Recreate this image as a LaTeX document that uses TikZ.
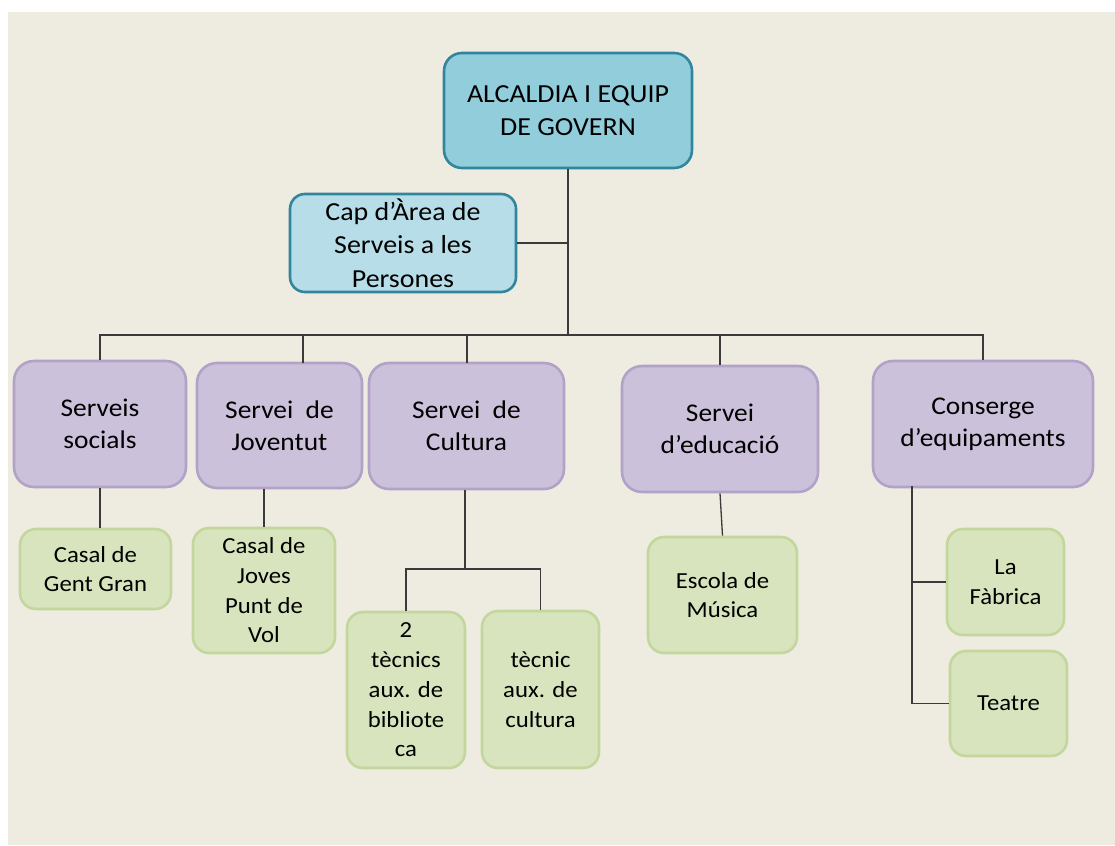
\documentclass[tikz,border=0pt]{standalone}
\usepackage{fontspec}
\setmainfont{Carlito}[FakeStretch=1.075]
\definecolor{bgtan}{HTML}{EEECE1}
\definecolor{aquafill}{HTML}{92CDDC}
\definecolor{aqualight}{HTML}{B7DEE8}
\definecolor{aquaedge}{HTML}{31859C}
\definecolor{purfill}{HTML}{CCC1DA}
\definecolor{puredge}{HTML}{B2A2C7}
\definecolor{grnfill}{HTML}{D7E4BD}
\definecolor{grnedge}{HTML}{C3D69B}
\definecolor{linecol}{HTML}{3A3A3A}
\tikzset{
  box/.style={rectangle, rounded corners=18pt, inner sep=0pt, align=center, line width=2.6pt, text=black},
  topbox/.style={box, draw=aquaedge, fill=aquafill, font=\fontsize{26}{33}\selectfont},
  capbox/.style={box, rounded corners=15pt, draw=aquaedge, fill=aqualight, font=\fontsize{26}{33.5}\selectfont},
  serbox/.style={box, rounded corners=20pt, draw=puredge, fill=purfill, font=\fontsize{25.5}{32}\selectfont},
  subbox/.style={box, rounded corners=16pt, draw=grnedge, fill=grnfill, font=\fontsize{23}{29.7}\selectfont},
  link/.style={draw=linecol, line width=1.3pt}
}
\begin{document}
\begin{tikzpicture}[x=1pt,y=-1pt]
\useasboundingbox (0,0) rectangle (1115,845);
\fill[white] (0,0) rectangle (1115,845);
\fill[bgtan] (8,12) rectangle (1115,845);

\node[topbox, minimum width=248pt, minimum height=115pt] (top) at (568,110.5) {ALCALDIA I EQUIP\\DE GOVERN};
\node[capbox, minimum width=226pt, minimum height=98pt] (cap) at (403,243) {Cap d’Àrea de\\Serveis a les\\Persones};

\node[serbox, minimum width=172pt, minimum height=126pt] (ss) at (100,424) {Serveis\\socials};
\node[serbox, minimum width=165pt, minimum height=125pt] (jov) at (279.5,425.5) {Servei\ \ de\\Joventut};
\node[serbox, minimum width=195pt, minimum height=126pt] (cult) at (466.5,426) {Servei\ \ de\\Cultura};
\node[serbox, minimum width=196pt, minimum height=126pt] (edu) at (720,429) {Servei\\d’educació};
\node[serbox, minimum width=220pt, minimum height=126pt] (cons) at (983,424) {Conserge\\d’equipaments};

\node[subbox, minimum width=151pt, minimum height=80pt] (gg) at (95.5,569) {Casal de\\Gent Gran};
\node[subbox, minimum width=142pt, minimum height=125pt] (joves) at (264,590.5) {Casal de\\Joves\\Punt de\\Vol};
\node[subbox, minimum width=118pt, minimum height=156pt] (tec2) at (406,690) {2\\tècnics\\aux. de\\bibliote\\ca};
\node[subbox, minimum width=117pt, minimum height=157pt] (tec1) at (540.5,689.5) {tècnic\\aux. de\\cultura};
\node[subbox, minimum width=149pt, minimum height=116pt] (escola) at (722.5,595) {Escola de\\Música};
\node[subbox, minimum width=117pt, minimum height=106pt] (fab) at (1005.5,582) {La\\Fàbrica};
\node[subbox, minimum width=117pt, minimum height=105pt] (teatre) at (1008.5,703.5) {Teatre};

\coordinate (bus) at (568,335);
\coordinate (cbus) at (465,569);
\coordinate (jdrop) at (303,363);
\coordinate (cdrop) at (467,363);
\coordinate (ctop) at (912,486);

% top connectors
\draw[link] (top.south) -- (bus);
\draw[link] (cap.east) -- (cap.east -| top.south);
\draw[link] (ss.north) -- (ss.north |- bus) -- (cons.north |- bus) -- (cons.north);
\draw[link] (jdrop) -- (jdrop |- bus);
\draw[link] (cdrop) -- (cdrop |- bus);
\draw[link] (edu.north) -- (edu.north |- bus);

% second level
\draw[link] (ss.south) -- (ss.south |- gg.north);
\draw[link] (joves.north) -- (joves.north |- jov.south);
\draw[link] (cbus |- cult.south) -- (cbus);
\draw[link] (tec2.north) -- (tec2.north |- cbus) -- (tec1.north |- cbus) -- (tec1.north);
\draw[link] (edu.south) -- (escola.north);
\draw[link] (ctop) |- (teatre.west);
\draw[link] (fab.west) -- (fab.west -| ctop);
\end{tikzpicture}
\end{document}
